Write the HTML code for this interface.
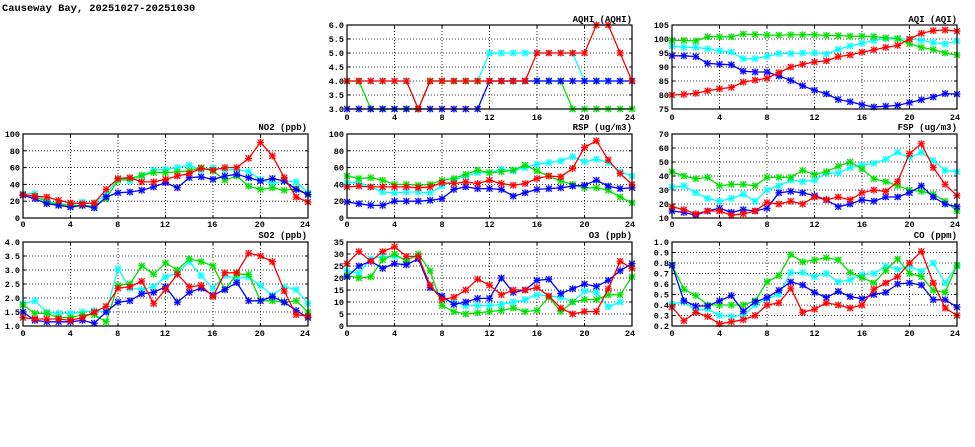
<!DOCTYPE html>
<html><head><meta charset="utf-8"><style>
html,body{margin:0;padding:0;background:#fff;width:975px;height:447px;overflow:hidden}
svg{display:block}
text{font-family:"Liberation Mono","DejaVu Sans Mono",monospace;font-weight:bold;font-size:8.5px;fill:#000}
.t{font-size:10.4px}
.yl{text-anchor:end}
.xl{text-anchor:middle}
.pt{text-anchor:end;font-size:9px}
</style></head><body>
<svg id="s" width="975" height="447" xmlns="http://www.w3.org/2000/svg">
<text class="t" x="2" y="11">Causeway Bay, 20251027-20251030</text>
<g id="g"></g>
<text class="pt" x="632" y="22">AQHI (AQHI)</text>
<text class="pt" x="957" y="22">AQI (AQI)</text>
<text class="pt" x="307" y="130">NO2 (ppb)</text>
<text class="pt" x="632" y="130">RSP (ug/m3)</text>
<text class="pt" x="957" y="130">FSP (ug/m3)</text>
<text class="pt" x="307" y="238">SO2 (ppb)</text>
<text class="pt" x="632" y="238">O3 (ppb)</text>
<text class="pt" x="957" y="238">CO (ppm)</text>
<text class="xl" x="347" y="120">0</text><text class="xl" x="394.5" y="120">4</text><text class="xl" x="442" y="120">8</text><text class="xl" x="489.5" y="120">12</text><text class="xl" x="537" y="120">16</text><text class="xl" x="584.5" y="120">20</text><text class="xl" x="630" y="120">24</text>
<text class="xl" x="672" y="120">0</text><text class="xl" x="719.5" y="120">4</text><text class="xl" x="767" y="120">8</text><text class="xl" x="814.5" y="120">12</text><text class="xl" x="862" y="120">16</text><text class="xl" x="909.5" y="120">20</text><text class="xl" x="955" y="120">24</text>
<text class="xl" x="23" y="227">0</text><text class="xl" x="70.3" y="227">4</text><text class="xl" x="117.7" y="227">8</text><text class="xl" x="165" y="227">12</text><text class="xl" x="212.3" y="227">16</text><text class="xl" x="259.7" y="227">20</text><text class="xl" x="305" y="227">24</text>
<text class="xl" x="347" y="227">0</text><text class="xl" x="394.5" y="227">4</text><text class="xl" x="442" y="227">8</text><text class="xl" x="489.5" y="227">12</text><text class="xl" x="537" y="227">16</text><text class="xl" x="584.5" y="227">20</text><text class="xl" x="630" y="227">24</text>
<text class="xl" x="672" y="227">0</text><text class="xl" x="719.5" y="227">4</text><text class="xl" x="767" y="227">8</text><text class="xl" x="814.5" y="227">12</text><text class="xl" x="862" y="227">16</text><text class="xl" x="909.5" y="227">20</text><text class="xl" x="955" y="227">24</text>
<text class="xl" x="23" y="336">0</text><text class="xl" x="70.3" y="336">4</text><text class="xl" x="117.7" y="336">8</text><text class="xl" x="165" y="336">12</text><text class="xl" x="212.3" y="336">16</text><text class="xl" x="259.7" y="336">20</text><text class="xl" x="305" y="336">24</text>
<text class="xl" x="347" y="336">0</text><text class="xl" x="394.5" y="336">4</text><text class="xl" x="442" y="336">8</text><text class="xl" x="489.5" y="336">12</text><text class="xl" x="537" y="336">16</text><text class="xl" x="584.5" y="336">20</text><text class="xl" x="630" y="336">24</text>
<text class="xl" x="672" y="336">0</text><text class="xl" x="719.5" y="336">4</text><text class="xl" x="767" y="336">8</text><text class="xl" x="814.5" y="336">12</text><text class="xl" x="862" y="336">16</text><text class="xl" x="909.5" y="336">20</text><text class="xl" x="955" y="336">24</text>
<text class="yl" x="344" y="28">6.0</text><text class="yl" x="344" y="42">5.5</text><text class="yl" x="344" y="56">5.0</text><text class="yl" x="344" y="70">4.5</text><text class="yl" x="344" y="84">4.0</text><text class="yl" x="344" y="98">3.5</text><text class="yl" x="344" y="112">3.0</text>
<text class="yl" x="669" y="28">105</text><text class="yl" x="669" y="42">100</text><text class="yl" x="669" y="56">95</text><text class="yl" x="669" y="70">90</text><text class="yl" x="669" y="84">85</text><text class="yl" x="669" y="98">80</text><text class="yl" x="669" y="112">75</text>
<text class="yl" x="20" y="137">100</text><text class="yl" x="20" y="153.8">80</text><text class="yl" x="20" y="170.6">60</text><text class="yl" x="20" y="187.4">40</text><text class="yl" x="20" y="204.2">20</text><text class="yl" x="20" y="221">0</text>
<text class="yl" x="344" y="137">100</text><text class="yl" x="344" y="153.8">80</text><text class="yl" x="344" y="170.6">60</text><text class="yl" x="344" y="187.4">40</text><text class="yl" x="344" y="204.2">20</text><text class="yl" x="344" y="221">0</text>
<text class="yl" x="669" y="137">70</text><text class="yl" x="669" y="151">60</text><text class="yl" x="669" y="165">50</text><text class="yl" x="669" y="179">40</text><text class="yl" x="669" y="193">30</text><text class="yl" x="669" y="207">20</text><text class="yl" x="669" y="221">10</text>
<text class="yl" x="20" y="245">4.0</text><text class="yl" x="20" y="259">3.5</text><text class="yl" x="20" y="273">3.0</text><text class="yl" x="20" y="287">2.5</text><text class="yl" x="20" y="301">2.0</text><text class="yl" x="20" y="315">1.5</text><text class="yl" x="20" y="329">1.0</text>
<text class="yl" x="344" y="245">35</text><text class="yl" x="344" y="257">30</text><text class="yl" x="344" y="269">25</text><text class="yl" x="344" y="281">20</text><text class="yl" x="344" y="293">15</text><text class="yl" x="344" y="305">10</text><text class="yl" x="344" y="317">5</text><text class="yl" x="344" y="329">0</text>
<text class="yl" x="669" y="245">1.0</text><text class="yl" x="669" y="255.5">0.9</text><text class="yl" x="669" y="266">0.8</text><text class="yl" x="669" y="276.5">0.7</text><text class="yl" x="669" y="287">0.6</text><text class="yl" x="669" y="297.5">0.5</text><text class="yl" x="669" y="308">0.4</text><text class="yl" x="669" y="318.5">0.3</text><text class="yl" x="669" y="329">0.2</text>
</svg>
<script>
var P=[
{x:347,y:25,min:3,max:6,st:0.5,d:{
c:[4,4,4,4,4,4,3,4,4,4,4,4,5,5,5,5,5,5,5,5,4,4,4,4,4],
g:[4,4,3,3,3,3,3,4,4,4,4,4,4,4,4,4,4,4,4,3,3,3,3,3,3],
b:[3,3,3,3,3,3,3,3,3,3,3,3,4,4,4,4,4,4,4,4,4,4,4,4,4],
r:[4,4,4,4,4,4,3,4,4,4,4,4,4,4,4,4,5,5,5,5,5,6,6,5,4]}},
{x:672,y:25,min:75,max:105,st:5,d:{
c:[97.5,97,97,96.5,95.8,95.3,93,93,93.8,94.8,94.8,95,95,94.6,96.3,97.5,98.5,99.5,100.2,100,100,99.5,98.8,98.2,99.3],
g:[99.5,99.5,99.3,100.8,100.8,100.8,101.8,101.6,101.4,101.4,101.5,101.5,101.5,101.3,101.2,101,101,100.9,100.4,100.2,98.3,97,96.2,95,94.3],
b:[94,94,93.7,91.3,91,90.8,88.5,88.2,88.2,86.8,85.2,83.3,81.7,80.4,78.4,77.6,76.5,75.7,76,76.3,77.3,78.3,79.3,80.5,80.3],
r:[80,80.2,80.6,81.5,82.2,82.7,84.6,85.3,86,88,90,91,91.8,92.2,93.7,94.3,95.3,96.1,97,97.7,100,102,103,103.2,102.8]}},
{x:23,y:134,min:0,max:100,st:20,d:{
c:[29,29,20,17,16,19,17,29,46,44,50,57,58,60,63,57,60,57,58,55,46,41,44,43,30],
g:[28,26,19,16,15,15,14,23,45,47,51,54,54,55,56,60,56,45,50,38,34,36,33,35,28],
b:[27,23,17,15,13,15,12,25,30,31,33,37,42,36,48,49,46,50,52,48,44,47,44,34,28],
r:[28,26,25,21,18,17,18,34,47,48,43,43,46,50,53,59,57,60,60,71,90,74,48,25,19]}},
{x:347,y:134,min:0,max:100,st:20,d:{
c:[42,42,37,31,30,31,31,30,38,45,50,54,54,58,56,60,64,66,68,73,67,70,66,55,50],
g:[50,47,48,45,40,40,39,40,45,47,52,57,54,55,57,63,56,50,44,40,36,36,33,25,18],
b:[19,17,15,15,20,20,20,21,23,34,37,35,35,34,26,30,34,35,36,38,39,45,38,35,36],
r:[37,38,37,37,37,37,36,37,42,41,43,41,45,41,39,41,47,50,49,59,84,92,69,53,40]}},
{x:672,y:134,min:10,max:70,st:10,d:{
c:[32,33,28,24,22,24,27,22,30,33,37,36,37,42,42,46,48,49,52,57,53,57,51,44,43],
g:[43,40,38,39,33,34,34,33,39,39,39,44,41,43,47,50,45,38,36,33,30,29,27,22,15],
b:[15,14,12,15,17,14,16,15,17,28,29,28,26,23,18,20,23,22,25,25,28,33,25,20,18],
r:[18,16,13,15,15,12,13,15,21,20,22,20,25,23,25,23,28,30,29,36,56,63,46,34,26]}},
{x:23,y:242,min:1,max:4,st:0.5,d:{
c:[1.8,1.9,1.5,1.45,1.45,1.5,1.55,1.5,3.05,2.35,2.3,2.4,2.75,2.9,3.3,2.8,2.35,2.8,2.7,2.75,2.45,2.1,2.4,2.3,1.8],
g:[1.75,1.45,1.45,1.3,1.3,1.4,1.4,1.15,2.45,2.5,3.15,2.85,3.25,3.0,3.4,3.3,3.15,2.3,2.85,2.85,1.9,1.9,1.85,1.9,1.5],
b:[1.5,1.2,1.15,1.15,1.15,1.2,1.1,1.5,1.85,1.9,2.15,2.2,2.4,1.85,2.2,2.35,2.1,2.3,2.55,1.9,1.9,2.05,1.85,1.55,1.3],
r:[1.3,1.25,1.25,1.25,1.2,1.3,1.5,1.7,2.35,2.4,2.6,1.8,2.3,2.85,2.4,2.45,2.05,2.9,2.9,3.6,3.5,3.3,2.25,1.4,1.35]}},
{x:347,y:242,min:0,max:35,st:5,d:{
c:[23,22,28,29,29,28,29,17,11,10,8.5,8.5,8.5,9,10,11,13,12.5,12,10,14.5,14,8,10,null],
g:[21,20,20.5,27.5,30,27,30,23,8.5,6,5,5.5,6,6.5,7.5,6,6.5,12,6,10,11,11,13,13,20.5],
b:[20.5,25,27,24,26,25.5,28,16,12.5,9,10,11.5,11.5,20,14,15,19,19.5,13.5,15.5,17.5,16.5,19,23,26],
r:[26,31,27,31,33,29,29,17,11,12,15,19.5,17,13,15,15,16,12.5,7.5,5,6,6,15.5,27,24]}},
{x:672,y:242,min:0.2,max:1.0,st:0.1,d:{
c:[0.41,0.43,0.35,0.36,0.30,0.29,0.30,0.40,0.46,0.50,0.71,0.71,0.67,0.70,0.62,0.64,0.69,0.70,0.77,0.74,0.77,0.72,0.80,0.61,0.77],
g:[0.78,0.55,0.49,0.40,0.40,0.40,0.40,0.44,0.62,0.68,0.88,0.81,0.83,0.85,0.83,0.71,0.66,0.61,0.73,0.84,0.70,0.67,0.54,0.52,0.78],
b:[0.78,0.44,0.39,0.39,0.44,0.49,0.34,0.43,0.47,0.54,0.62,0.59,0.52,0.47,0.53,0.48,0.46,0.50,0.52,0.60,0.61,0.59,0.45,0.45,0.38],
r:[0.38,0.25,0.33,0.29,0.22,0.24,0.26,0.30,0.40,0.42,0.56,0.33,0.36,0.42,0.40,0.37,0.40,0.55,0.61,0.67,0.80,0.91,0.61,0.37,0.30]}}
];
var col={c:"#00ffff",g:"#00e000",b:"#0000ff",r:"#ff0000"};
var W=285,H=84,h='';
P.forEach(function(p){
 var n=Math.round((p.max-p.min)/p.st);
 h+='<g stroke="#000" stroke-width="0.8" stroke-dasharray="1,2" fill="none">';
 for(var i=1;i<n;i++){var y=p.y+H*i/n;h+='<line x1="'+p.x+'" x2="'+(p.x+W)+'" y1="'+y+'" y2="'+y+'"/>';}
 for(var k=4;k<24;k+=4){var x=p.x+W*k/24;h+='<line y1="'+p.y+'" y2="'+(p.y+H)+'" x1="'+x+'" x2="'+x+'"/>';}
 h+='</g>';
 h+='<g stroke="#000" stroke-width="1">';
 for(var i=0;i<=n;i++){var y=p.y+H*i/n;h+='<line x1="'+p.x+'" x2="'+(p.x+3)+'" y1="'+y+'" y2="'+y+'"/><line x1="'+(p.x+W-3)+'" x2="'+(p.x+W)+'" y1="'+y+'" y2="'+y+'"/>';}
 for(var k=0;k<=24;k+=4){var x=p.x+W*k/24;h+='<line y1="'+p.y+'" y2="'+(p.y+3)+'" x1="'+x+'" x2="'+x+'"/><line y1="'+(p.y+H-3)+'" y2="'+(p.y+H)+'" x1="'+x+'" x2="'+x+'"/>';}
 h+='</g>';
 h+='<svg x="'+(p.x-4)+'" y="'+(p.y-4)+'" width="'+(W+8)+'" height="'+(H+8)+'" overflow="hidden"><g transform="translate(4,4)">';
 ['c','g','b','r'].forEach(function(s){
  var pts=[],m='';
  p.d[s].forEach(function(v,i){if(v===null)return;var x=W*i/24,y=H*(p.max-v)/(p.max-p.min);pts.push(x.toFixed(1)+','+y.toFixed(1));
   m+='<rect x="'+(x-3)+'" y="'+(y-3)+'" width="6" height="6" fill="'+col[s]+'" fill-opacity="0.35" stroke="none"/><path d="M'+(x-3)+' '+(y-3)+'l6 6M'+(x-3)+' '+(y+3)+'l6 -6M'+(x-3.5)+' '+y+'h7M'+x+' '+(y-3.5)+'v7" stroke="'+col[s]+'" stroke-width="1"/>';});
  h+='<polyline points="'+pts.join(' ')+'" fill="none" stroke="'+col[s]+'" stroke-width="1.3"/>'+m;
 });
 h+='</g></svg>';
 h+='<rect x="'+p.x+'" y="'+p.y+'" width="'+W+'" height="'+H+'" fill="none" stroke="#000" stroke-width="1.2"/>';
});
document.getElementById('g').innerHTML=h;
</script>
</body></html>
